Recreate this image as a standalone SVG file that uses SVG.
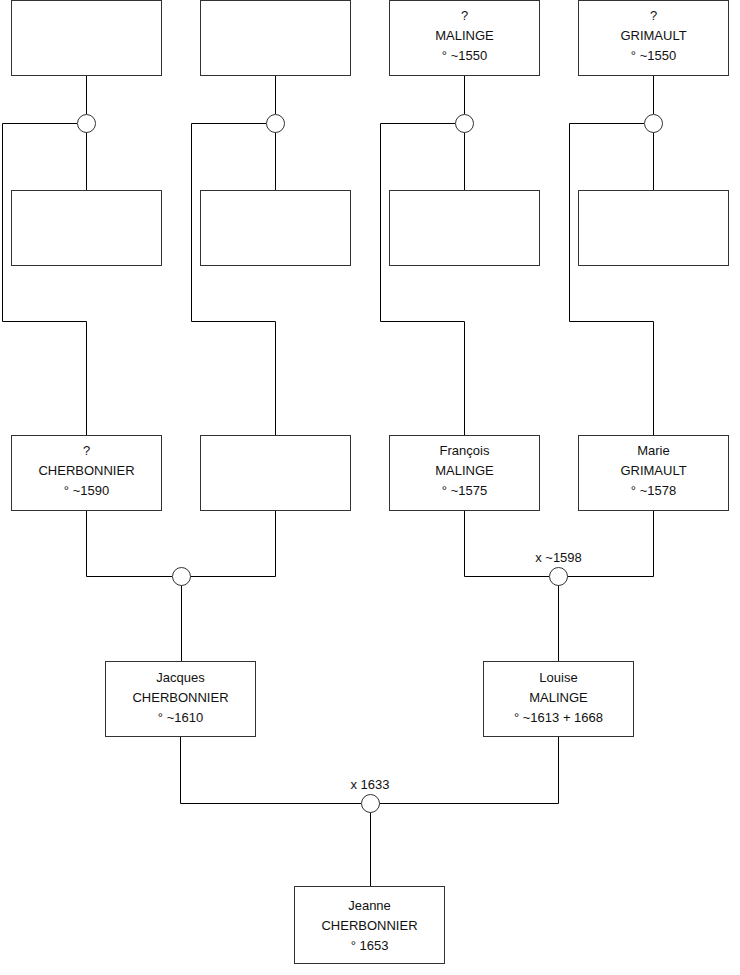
<svg xmlns="http://www.w3.org/2000/svg" width="740" height="975" viewBox="0 0 740 975">
<style>
.box{fill:#fff;stroke:#333;stroke-width:1}
.c{fill:#fff;stroke:#333;stroke-width:1}
.l{fill:none;stroke:#000;stroke-width:1}
text{font-family:"Liberation Sans",Arial,sans-serif;font-size:13px;fill:#111;text-anchor:middle}
</style>
<rect width="740" height="975" fill="#fff"/>
<g id="connectors">
<path class="l" d="M86.5 76V114 M86.5 132V190 M77 123.5H2.5V321.5H86.5V435"/>
<path class="l" d="M275.5 76V114 M275.5 132V190 M266 123.5H191.5V321.5H275.5V435"/>
<path class="l" d="M464.5 76V114 M464.5 132V190 M455 123.5H380.5V321.5H464.5V435"/>
<path class="l" d="M653.5 76V114 M653.5 132V190 M644 123.5H569.5V321.5H653.5V435"/>
<path class="l" d="M86.5 510V576.5H172 M190 576.5H275.5V510 M181.5 585V661"/>
<path class="l" d="M464.5 510V576.5H549 M567 576.5H653.5V510 M558.5 585V661"/>
<path class="l" d="M180.5 737V803.5H361 M379 803.5H558.5V737 M370.5 812V886"/>
</g>
<g id="u1"><circle class="c" cx="86.5" cy="123.5" r="9"/></g>
<g id="u2"><circle class="c" cx="275.5" cy="123.5" r="9"/></g>
<g id="u3"><circle class="c" cx="464.5" cy="123.5" r="9"/></g>
<g id="u4"><circle class="c" cx="653.5" cy="123.5" r="9"/></g>
<g id="u5"><circle class="c" cx="181.5" cy="576.5" r="9"/></g>
<g id="u6"><circle class="c" cx="558.5" cy="576.5" r="9"/><text x="558.5" y="562">x ~1598</text></g>
<g id="u7"><circle class="c" cx="370.5" cy="803.5" r="9"/><text x="370" y="789">x 1633</text></g>
<g id="n1"><rect class="box" x="11.5" y="0.5" width="150" height="75"/></g>
<g id="n2"><rect class="box" x="200.5" y="0.5" width="150" height="75"/></g>
<g id="n3"><rect class="box" x="389.5" y="0.5" width="150" height="75"/><text x="464.5" y="20">?</text><text x="464.5" y="40">MALINGE</text><text x="464.5" y="60">° ~1550</text></g>
<g id="n4"><rect class="box" x="578.5" y="0.5" width="150" height="75"/><text x="653.5" y="20">?</text><text x="653.5" y="40">GRIMAULT</text><text x="653.5" y="60">° ~1550</text></g>
<g id="n5"><rect class="box" x="11.5" y="190.5" width="150" height="75"/></g>
<g id="n6"><rect class="box" x="200.5" y="190.5" width="150" height="75"/></g>
<g id="n7"><rect class="box" x="389.5" y="190.5" width="150" height="75"/></g>
<g id="n8"><rect class="box" x="578.5" y="190.5" width="150" height="75"/></g>
<g id="n9"><rect class="box" x="11.5" y="435.5" width="150" height="75"/><text x="86.5" y="455">?</text><text x="86.5" y="475">CHERBONNIER</text><text x="86.5" y="495">° ~1590</text></g>
<g id="n10"><rect class="box" x="200.5" y="435.5" width="150" height="75"/></g>
<g id="n11"><rect class="box" x="389.5" y="435.5" width="150" height="75"/><text x="464.5" y="455">François</text><text x="464.5" y="475">MALINGE</text><text x="464.5" y="495">° ~1575</text></g>
<g id="n12"><rect class="box" x="578.5" y="435.5" width="150" height="75"/><text x="653.5" y="455">Marie</text><text x="653.5" y="475">GRIMAULT</text><text x="653.5" y="495">° ~1578</text></g>
<g id="n13"><rect class="box" x="105.5" y="661.5" width="150" height="75"/><text x="180.5" y="682">Jacques</text><text x="180.5" y="702">CHERBONNIER</text><text x="180.5" y="722">° ~1610</text></g>
<g id="n14"><rect class="box" x="483.5" y="661.5" width="150" height="75"/><text x="558.5" y="682">Louise</text><text x="558.5" y="702">MALINGE</text><text x="558.5" y="722">° ~1613 + 1668</text></g>
<g id="n15"><rect class="box" x="294.5" y="886.5" width="150" height="77"/><text x="369.5" y="910">Jeanne</text><text x="369.5" y="930">CHERBONNIER</text><text x="369.5" y="950">° 1653</text></g>
</svg>
